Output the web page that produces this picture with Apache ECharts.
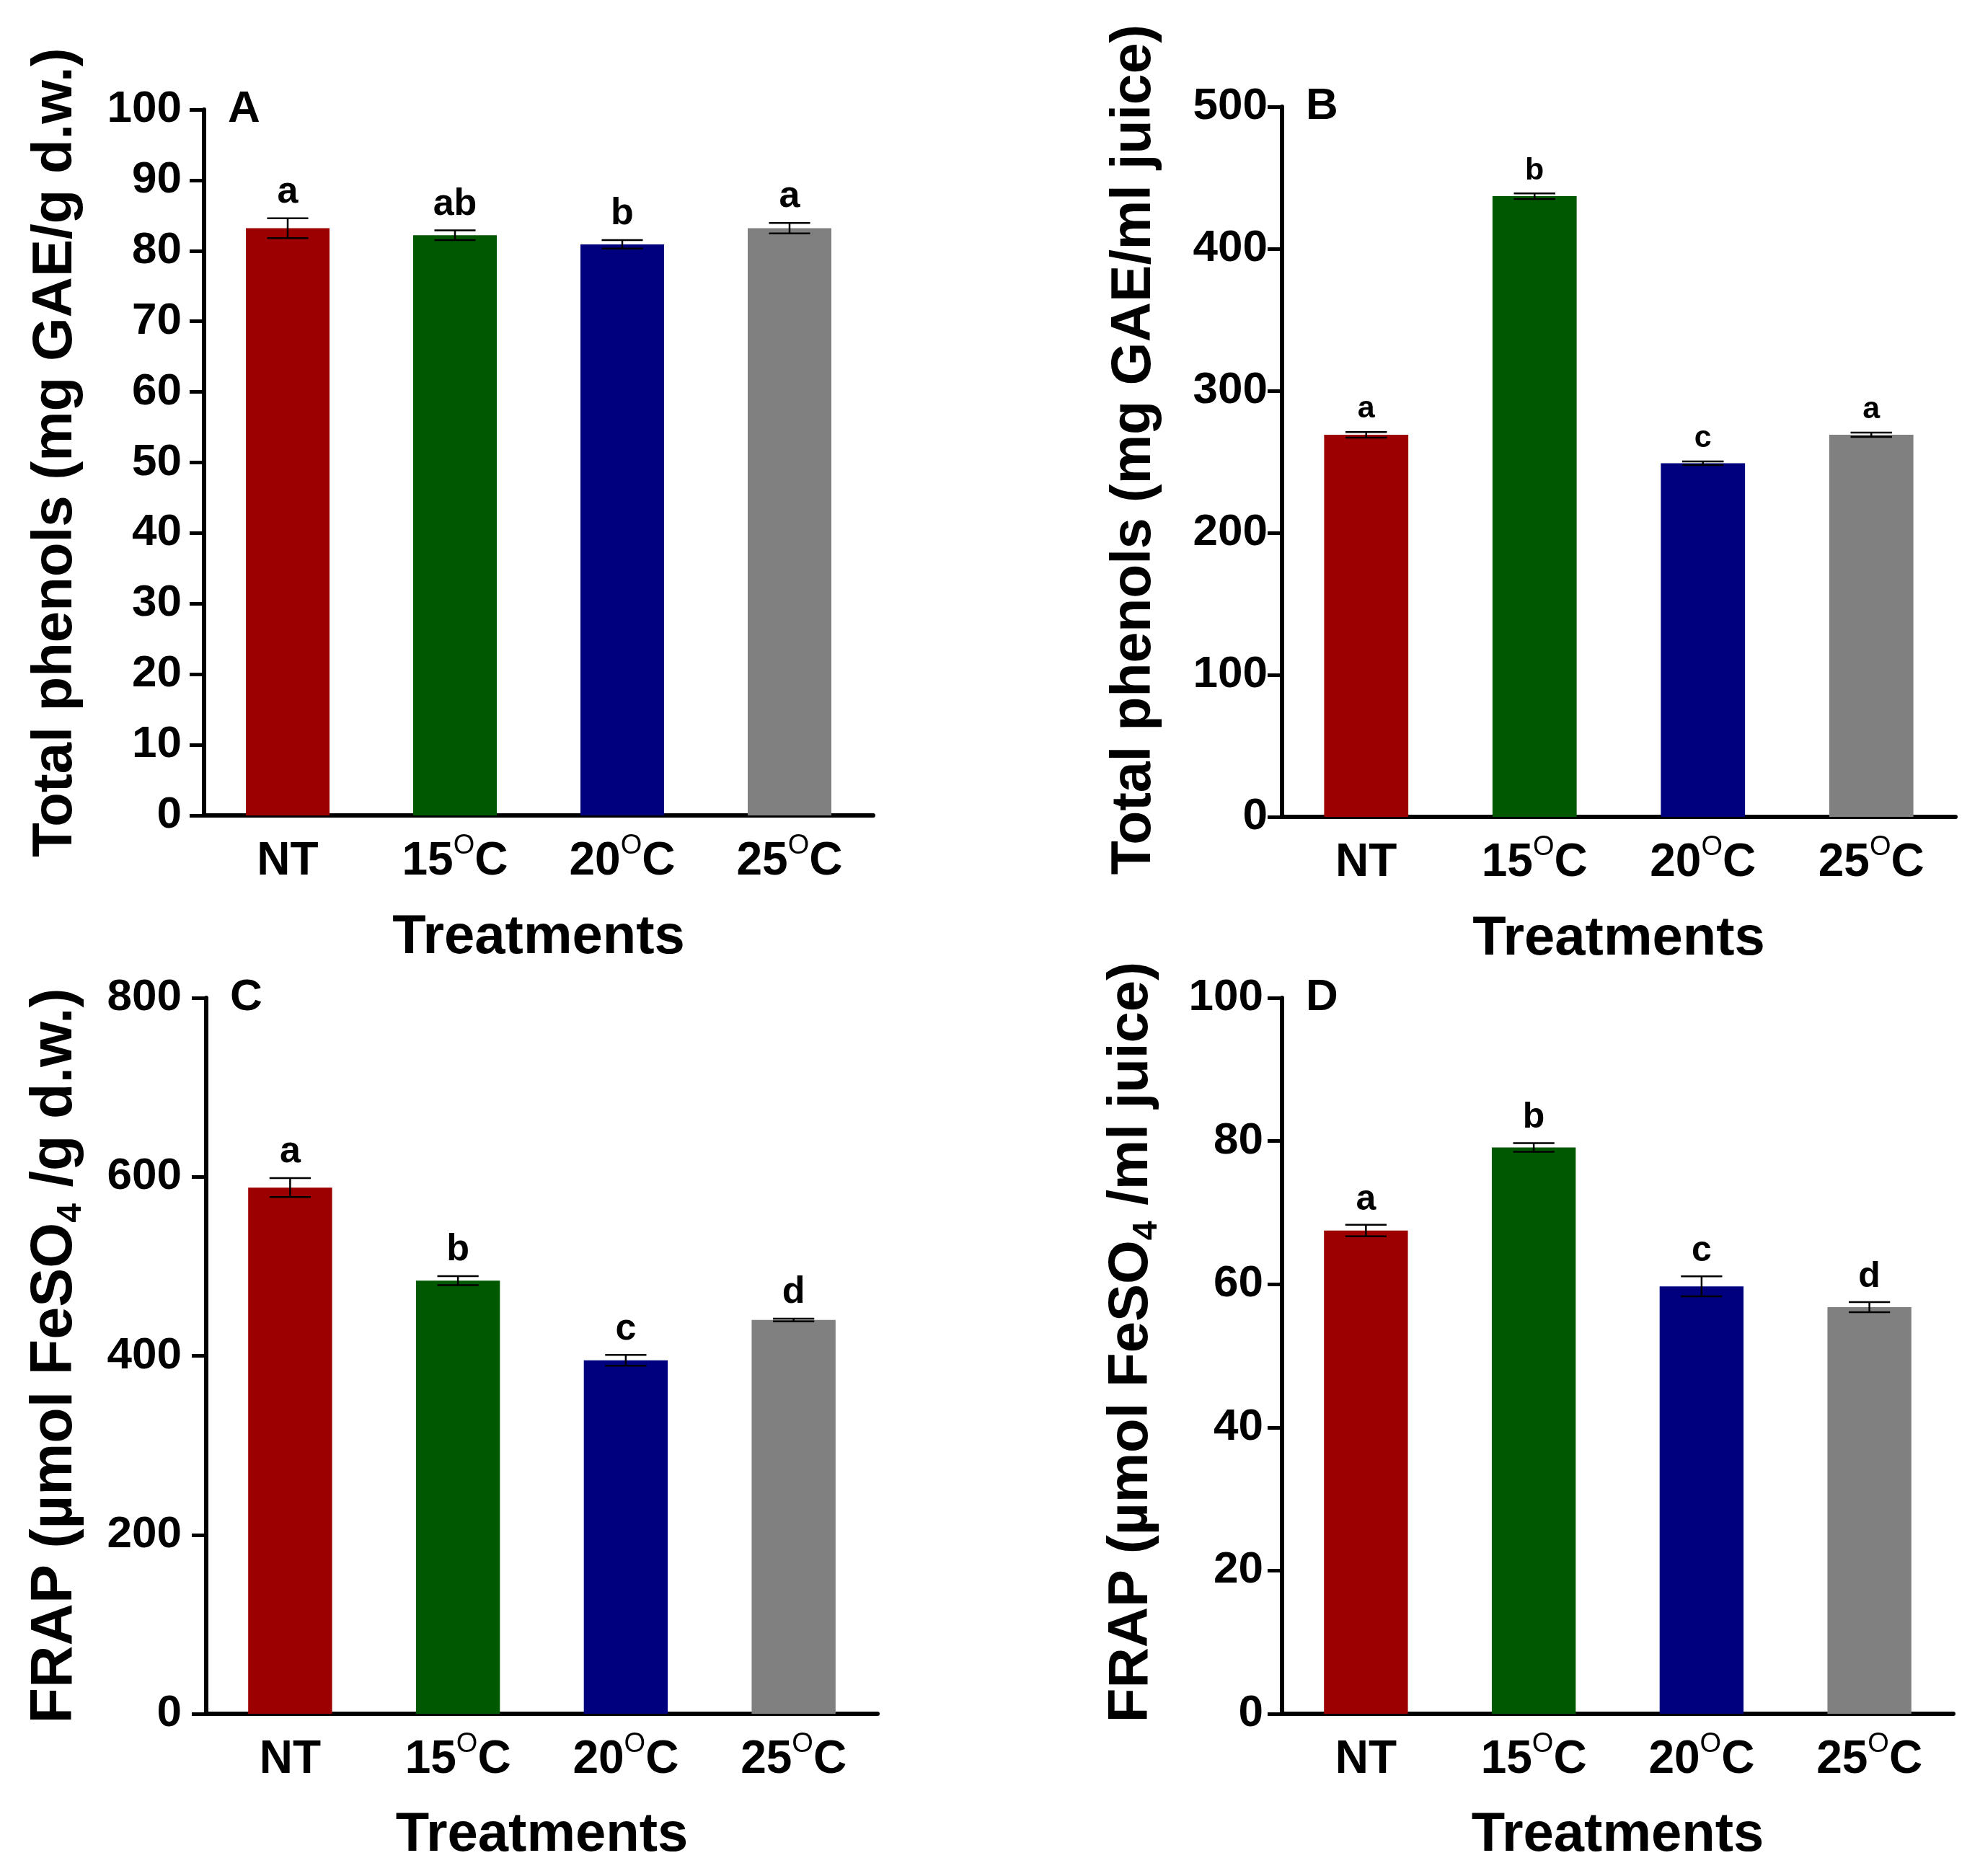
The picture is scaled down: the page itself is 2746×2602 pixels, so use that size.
<!DOCTYPE html>
<html>
<head>
<meta charset="utf-8">
<script src="https://cdn.jsdelivr.net/npm/echarts@6/dist/echarts.min.js"></script>
<style>
html,body{margin:0;padding:0;background:#fff;}
#chart{width:2746px;height:2602px;}
</style>
</head>
<body>
<div id="chart"></div>
<script>
// ---- data ----
const categories = ['NT', '15°C', '20°C', '25°C'];
const barColors = ['#9c0000', '#005800', '#00007e', '#808080'];

const meanA = [83.2, 82.2, 80.9, 83.2];
const errA  = [1.4, 0.7, 0.6, 0.75];
const sigA  = ['a', 'ab', 'b', 'a'];

const meanB = [269, 437, 249, 269];
const errB  = [2, 2, 1.3, 1.5];
const sigB  = ['a', 'b', 'c', 'a'];

const meanC = [588, 484, 395, 440];
const errC  = [10.5, 5, 6, 1.5];
const sigC  = ['a', 'b', 'c', 'd'];

const meanD = [67.5, 79.1, 59.7, 56.8];
const errD  = [0.8, 0.6, 1.4, 0.7];
const sigD  = ['a', 'b', 'c', 'd'];

const yTitleA = 'Total phenols (mg GAE/g d.w.)';
const yTitleB = 'Total phenols (mg GAE/ml juice)';
const yTitleC = 'FRAP (µmol FeSO{sub|4} /g d.w.)';
const yTitleD = 'FRAP (µmol FeSO{sub|4} /ml juice)';
const xTitle = 'Treatments';
const panelLetters = ['A', 'B', 'C', 'D'];

// ---- layout ----
const FONT = '"Liberation Sans", Arial, sans-serif';
const panels = [
  {mean: meanA, err: errA, sig: sigA, title: yTitleA, max: 100, interval: 10,
   grid: {left: 283, top: 152, width: 928, height: 979}, labelMargin: 31, sigFont: 52, nameGap: 160, xNameGap: 132,
   titleSize: 78, titleShift: 28},
  {mean: meanB, err: errB, sig: sigB, title: yTitleB, max: 500, interval: 100,
   grid: {left: 1778, top: 148, width: 934, height: 985}, labelMargin: 20, sigFont: 43, nameGap: 158, xNameGap: 132,
   titleSize: 77, titleShift: 34},
  {mean: meanC, err: errC, sig: sigC, title: yTitleC, max: 800, interval: 200,
   grid: {left: 286, top: 1384, width: 931, height: 993}, labelMargin: 34, sigFont: 52, nameGap: 163, xNameGap: 131,
   titleSize: 81, titleShift: 0},
  {mean: meanD, err: errD, sig: sigD, title: yTitleD, max: 100, interval: 20,
   grid: {left: 1778, top: 1384, width: 931, height: 993}, labelMargin: 26, sigFont: 50, nameGap: 163, xNameGap: 131,
   titleSize: 78, titleShift: 38}
];

const grids = [], xAxes = [], yAxes = [], series = [], graphics = [];

panels.forEach((p, k) => {
  grids.push(Object.assign({containLabel: false, outerBoundsMode: 'none'}, p.grid));
  xAxes.push({
    type: 'category', gridIndex: k, data: categories,
    name: xTitle, nameLocation: 'middle', nameGap: p.xNameGap,
    nameTextStyle: {fontFamily: FONT, fontWeight: 'bold', fontSize: 76, color: '#000'},
    axisLine: {lineStyle: {color: '#000', width: 6}},
    axisTick: {alignWithLabel: true, length: 20, lineStyle: {color: '#000', width: 5}},
    axisLabel: {
      interval: 0, hideOverlap: false,
      margin: 24, color: '#000', fontFamily: FONT, fontWeight: 'bold', fontSize: 64, lineHeight: 80,
      formatter: v => v.replace('°', '{o|O}'),
      rich: {o: {fontFamily: FONT, fontWeight: 'normal', fontSize: 38, lineHeight: 38, verticalAlign: 'top', color: '#000'}}
    },
    splitLine: {show: false}
  });
  yAxes.push({
    type: 'value', gridIndex: k, min: 0, max: p.max, interval: p.interval,
    name: p.title, nameLocation: 'middle', nameGap: p.nameGap, nameRotate: 90,
    nameTextStyle: {
      fontFamily: FONT, fontWeight: 'bold', fontSize: p.titleSize, color: '#000', lineHeight: 92,
      padding: [0, 0, 0, p.titleShift],
      rich: {sub: {fontFamily: FONT, fontWeight: 'bold', fontSize: 48, lineHeight: 48, verticalAlign: 'bottom', color: '#000'}}
    },
    axisLine: {show: true, lineStyle: {color: '#000', width: 6}},
    axisTick: {show: true, length: 20, lineStyle: {color: '#000', width: 5}},
    axisLabel: {margin: p.labelMargin, color: '#000', fontFamily: FONT, fontWeight: 'bold', fontSize: 62},
    splitLine: {show: false}
  });
  series.push({
    type: 'bar', xAxisIndex: k, yAxisIndex: k, barWidth: '50%', silent: true,
    data: p.mean.map((v, i) => ({value: v, itemStyle: {color: barColors[i]}})),
    z: 2
  });
  series.push({
    type: 'custom', xAxisIndex: k, yAxisIndex: k, silent: true, z: 5,
    data: p.mean.map((v, i) => [i, v, p.err[i]]),
    encode: {x: 0, y: 1},
    renderItem: (params, api) => {
      const i = api.value(0), m = api.value(1), e = api.value(2);
      const hi = api.coord([i, m + e]);
      const lo = api.coord([i, m - e]);
      const half = api.size([1, 0])[0] * 0.123;
      const ls = {stroke: '#000', lineWidth: 2.5};
      return {
        type: 'group',
        children: [
          {type: 'line', shape: {x1: hi[0], y1: hi[1], x2: lo[0], y2: lo[1]}, style: ls},
          {type: 'line', shape: {x1: hi[0] - half, y1: hi[1], x2: hi[0] + half, y2: hi[1]}, style: ls},
          {type: 'line', shape: {x1: lo[0] - half, y1: lo[1], x2: lo[0] + half, y2: lo[1]}, style: ls},
          {type: 'text', style: {
            text: p.sig[params.dataIndex], x: hi[0], y: hi[1] - 10,
            align: 'center', verticalAlign: 'bottom', textAlign: 'center', textVerticalAlign: 'bottom',
            font: 'bold ' + p.sigFont + 'px ' + FONT, fill: '#000'}}
        ]
      };
    }
  });
  graphics.push({
    type: 'text', x: p.grid.left + 33, y: p.grid.top,
    style: {text: panelLetters[k], font: 'bold 62px ' + FONT, fill: '#000',
            align: 'left', verticalAlign: 'middle', textAlign: 'left', textVerticalAlign: 'middle'}
  });
});

const chart = echarts.init(document.getElementById('chart'), null, {renderer: 'canvas', width: 2746, height: 2602});
chart.setOption({
  backgroundColor: '#fff',
  animation: false,
  grid: grids, xAxis: xAxes, yAxis: yAxes, series: series, graphic: graphics
});
</script>
</body>
</html>
